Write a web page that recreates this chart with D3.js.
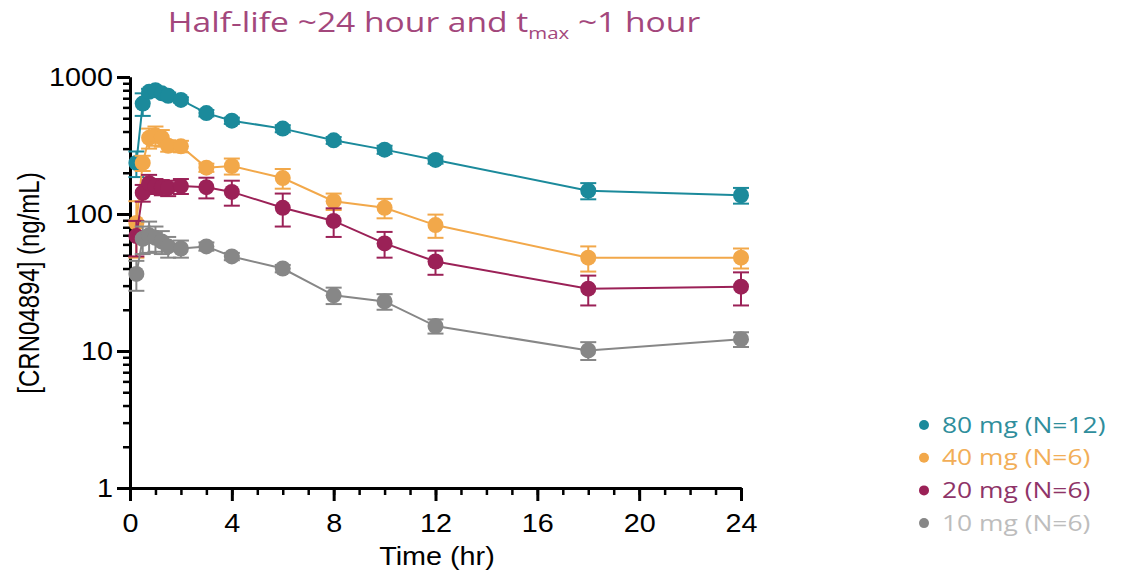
<!DOCTYPE html>
<html>
<head>
<meta charset="utf-8">
<script src="https://cdn.jsdelivr.net/npm/d3@7"></script>
<style>
  body { margin: 0; background: #fff; }
  .axis text { font-family: "Liberation Sans", Arial, sans-serif; font-size: 25px; fill: #000; }
  .axis path, .axis line { stroke: #000; }
</style>
</head>
<body>
<script>
// sampling times (hr)
const times = [0.25, 0.5, 0.75, 1, 1.25, 1.5, 2, 3, 4, 6, 8, 10, 12, 18, 24]

// mean concentrations (ng/mL) and SD per dose group
const mean80 = [236, 640, 780, 800, 760, 730, 680, 545, 480, 420, 345, 295, 248, 148, 137]
const sd80 = [50, 120, 40, 40, 40, 40, 30, 30, 25, 25, 20, 20, 15, 20, 18]
const mean40 = [86, 236, 360, 375, 360, 315, 312, 218, 224, 183, 124, 111, 83, 48, 48]
const sd40 = [38, 30, 60, 60, 50, 30, 30, 15, 30, 30, 17, 18, 16, 10, 8]
const mean20 = [69, 143, 168, 160, 157, 155, 160, 157, 145, 111, 89, 61, 45, 28.5, 29.5]
const sd20 = [20, 20, 25, 20, 20, 20, 20, 27, 30, 30, 21, 13, 9, 7, 8]
const mean10 = [36.5, 66, 70, 67, 63, 58, 56, 58, 49, 40, 25.5, 23, 15.2, 10.1, 12.2]
const sd10 = [9, 15, 18, 14, 12, 10, 8, 4, 3, 2.5, 3.5, 3, 1.8, 1.5, 1.5]

const labels = ['80 mg (N=12)', '40 mg (N=6)', '20 mg (N=6)', '10 mg (N=6)']
const colors = ['#1b8a9b', '#f2a84a', '#9b2157', '#878787']
const textColors = ['#2f8e9c', '#f2ae58', '#8f3468', '#bdbdbd']

const xTicks = [0, 4, 8, 12, 16, 20, 24]
const yTicks = [1, 10, 100, 1000]

const width = 1126
const height = 578
const stretch = 1.2 // the reference text is wide

const series = [
  {mean: mean80, sd: sd80},
  {mean: mean40, sd: sd40},
  {mean: mean20, sd: sd20},
  {mean: mean10, sd: sd10}
].map((s, i) => Object.assign(s, {label: labels[i], color: colors[i], textColor: textColors[i]}))

const x = d3.scaleLinear().domain([0, 24]).range([130, 741])
const y = d3.scaleLog().domain([1, 1000]).range([488, 77])

const svg = d3.select('body').append('svg')
    .attr('width', width)
    .attr('height', height)

function widen(sel, k) {
  sel.each(function () {
    const w = this.getComputedTextLength()
    d3.select(this).attr('textLength', w * k).attr('lengthAdjust', 'spacingAndGlyphs')
  })
}

// minor ticks
const yMinor = []
for (let d = 1; d < 1000; d *= 10) {
  for (let k = 2; k <= 9; k++) yMinor.push(d * k)
}

svg.append('g')
    .attr('class', 'axis')
    .attr('transform', 'translate(130,0)')
    .call(d3.axisLeft(y).tickValues(yMinor).tickSize(7).tickSizeOuter(0).tickFormat(''))
    .call(g => g.selectAll('line').attr('stroke-width', 2.5))
    .call(g => g.select('.domain').attr('stroke-width', 3))

svg.append('g')
    .attr('class', 'axis')
    .attr('transform', 'translate(130,0)')
    .call(d3.axisLeft(y).tickValues(yTicks).tickSize(13).tickSizeOuter(0).tickPadding(4).tickFormat(d3.format('d')))
    .call(g => g.selectAll('line').attr('stroke-width', 3))
    .call(g => g.select('.domain').attr('stroke-width', 3))
    .call(g => widen(g.selectAll('text'), 1.15))

svg.append('g')
    .attr('class', 'axis')
    .attr('transform', 'translate(0,488)')
    .call(d3.axisBottom(x).tickValues(d3.range(0, 25, 1)).tickSize(7).tickSizeOuter(0).tickFormat(''))
    .call(g => g.selectAll('line').attr('stroke-width', 2.5))
    .call(g => g.select('.domain').attr('stroke-width', 3))

svg.append('g')
    .attr('class', 'axis')
    .attr('transform', 'translate(0,488)')
    .call(d3.axisBottom(x).tickValues(xTicks).tickSize(13).tickSizeOuter(0).tickPadding(13))
    .call(g => g.selectAll('line').attr('stroke-width', 3))
    .call(g => g.select('.domain').attr('stroke-width', 3))
    .call(g => widen(g.selectAll('text'), 1.15))

// axis titles
svg.append('text')
    .attr('x', 437)
    .attr('y', 565)
    .attr('text-anchor', 'middle')
    .style('font-family', '"Liberation Sans", Arial, sans-serif')
    .style('font-size', '25px')
    .text('Time (hr)')
    .call(widen, 1.15)

svg.append('g')
    .attr('transform', `translate(29,283) scale(${stretch},1)`)
  .append('text')
    .attr('transform', 'rotate(-90)')
    .attr('dy', '0.35em')
    .attr('text-anchor', 'middle')
    .style('font-family', '"Liberation Sans", Arial, sans-serif')
    .style('font-size', '24px')
    .text('[CRN04894] (ng/mL)')

// title
const title = svg.append('g')
    .attr('transform', `translate(434,32) scale(${stretch},1)`)
  .append('text')
    .attr('text-anchor', 'middle')
    .style('font-family', '"Open Sans", sans-serif')
    .style('font-size', '28px')
    .style('fill', '#a3477c')
title.append('tspan').text('Half-life ~24 hour and t')
title.append('tspan').attr('dy', 7).style('font-size', '17px').text('max')
title.append('tspan').attr('dy', -7).text(' ~1 hour')

const line = d3.line()
  .x((d) => x(d.t))
  .y((d) => y(d.v))

series.forEach((s) => {
  const pts = times.map((t, i) => ({t, v: s.mean[i], sd: s.sd[i]}))
  const g = svg.append('g')

  g.append('path')
    .datum(pts)
    .attr('fill', 'none')
    .attr('stroke', s.color)
    .attr('stroke-width', 2)
    .attr('d', line)

  const eb = g.selectAll('.eb').data(pts).enter().append('g')
  eb.append('line')
    .attr('x1', (d) => x(d.t)).attr('x2', (d) => x(d.t))
    .attr('y1', (d) => y(d.v + d.sd)).attr('y2', (d) => y(Math.max(d.v - d.sd, 1)))
    .attr('stroke', s.color).attr('stroke-width', 2)
  eb.append('line')
    .attr('x1', (d) => x(d.t) - 8).attr('x2', (d) => x(d.t) + 8)
    .attr('y1', (d) => y(d.v + d.sd)).attr('y2', (d) => y(d.v + d.sd))
    .attr('stroke', s.color).attr('stroke-width', 2)
  eb.append('line')
    .attr('x1', (d) => x(d.t) - 8).attr('x2', (d) => x(d.t) + 8)
    .attr('y1', (d) => y(Math.max(d.v - d.sd, 1))).attr('y2', (d) => y(Math.max(d.v - d.sd, 1)))
    .attr('stroke', s.color).attr('stroke-width', 2)

  g.selectAll('circle').data(pts).enter().append('circle')
    .attr('cx', (d) => x(d.t))
    .attr('cy', (d) => y(d.v))
    .attr('r', 8)
    .attr('fill', s.color)
})

// legend
const legend = svg.append('g')
series.forEach((s, i) => {
  const row = legend.append('g').attr('transform', `translate(924, ${425 + i * 32.7})`)
  row.append('circle').attr('r', 5).attr('fill', s.color)
  row.append('text')
    .attr('x', 18)
    .attr('dy', '0.35em')
    .style('font-family', '"Open Sans", sans-serif')
    .style('font-size', '22px')
    .style('fill', s.textColor)
    .text(s.label)
    .call(widen, stretch)
})
</script>
</body>
</html>
